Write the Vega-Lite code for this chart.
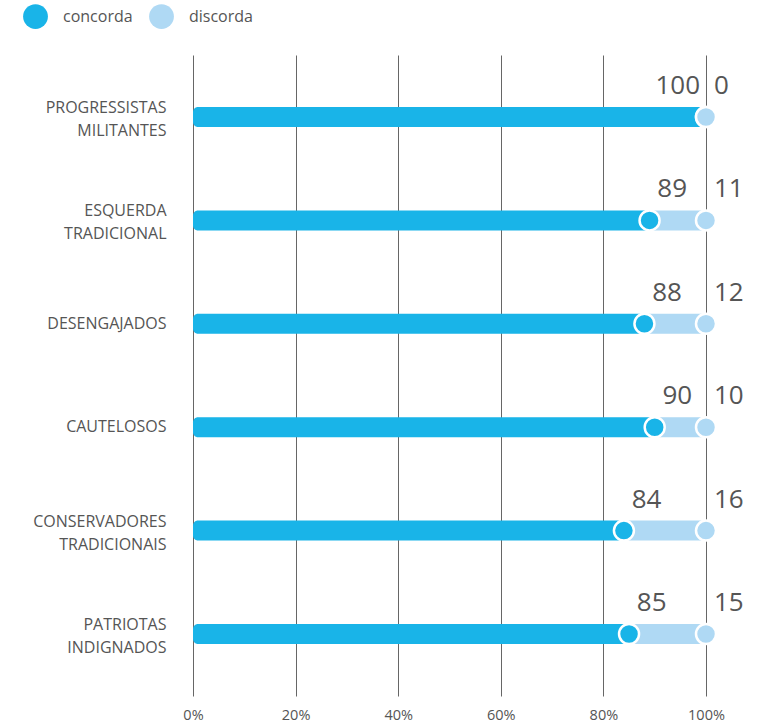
{
  "$schema": "https://vega.github.io/schema/vega-lite/v6.json",
  "width": 513,
  "height": 641,
  "autosize": "none",
  "padding": {"left": 193, "top": 55, "right": 57, "bottom": 31},
  "config": {
    "font": "Open Sans",
    "view": {"stroke": null},
    "axis": {"labelColor": "#555555", "labelFont": "Open Sans"},
    "legend": {"labelFont": "Open Sans"}
  },
  "data": {
    "values": [
      {"grupo": "PROGRESSISTAS|MILITANTES", "concorda": 100, "discorda": 0},
      {"grupo": "ESQUERDA|TRADICIONAL", "concorda": 89, "discorda": 11},
      {"grupo": "DESENGAJADOS", "concorda": 88, "discorda": 12},
      {"grupo": "CAUTELOSOS", "concorda": 90, "discorda": 10},
      {"grupo": "CONSERVADORES|TRADICIONAIS", "concorda": 84, "discorda": 16},
      {"grupo": "PATRIOTAS|INDIGNADOS", "concorda": 85, "discorda": 15}
    ]
  },
  "encoding": {
    "y": {
      "field": "grupo",
      "type": "nominal",
      "sort": null,
      "title": null,
      "scale": {"paddingInner": 0, "paddingOuter": 0.1},
      "axis": {
        "domain": false,
        "ticks": false,
        "labelPadding": 27,
        "labelFontSize": 16,
        "labelLineHeight": 23,
        "labelLimit": 200,
        "labelOffset": {"condition": {"test": "indexof(datum.value, '|') >= 0", "value": -9}, "value": 0},
        "labelExpr": "split(datum.value, '|')"
      }
    }
  },
  "layer": [
    {
      "transform": [
        {"fold": ["concorda", "discorda"], "as": ["resposta", "valor"]},
        {"stack": "valor", "groupby": ["grupo"], "sort": [{"field": "resposta", "order": "ascending"}], "as": ["v0", "v1"]}
      ],
      "mark": {"type": "bar", "size": 20, "cornerRadius": 5},
      "encoding": {
        "x": {
          "field": "v0",
          "type": "quantitative",
          "title": null,
          "scale": {"domain": [0, 100], "nice": false},
          "axis": {
            "values": [0, 20, 40, 60, 80, 100],
            "labelExpr": "datum.value + '%'",
            "labelFlush": false,
            "grid": true,
            "gridColor": "#666666",
            "gridWidth": 1,
            "domain": false,
            "ticks": false,
            "labelPadding": 12,
            "labelFontSize": 14.5
          }
        },
        "x2": {"field": "v1"},
        "color": {
          "field": "resposta",
          "type": "nominal",
          "scale": {"domain": ["concorda", "discorda"], "range": ["#19b4e8", "#afd9f4"]}
        }
      }
    },
    {
      "transform": [
        {"fold": ["concorda", "discorda"], "as": ["resposta", "valor"]},
        {"stack": "valor", "groupby": ["grupo"], "sort": [{"field": "resposta", "order": "ascending"}], "as": ["v0", "v1"]}
      ],
      "mark": {"type": "point", "filled": true, "shape": "circle", "size": 400, "stroke": "#ffffff", "strokeWidth": 2.5, "opacity": 1},
      "encoding": {
        "x": {"field": "v1", "type": "quantitative"},
        "color": {
          "field": "resposta",
          "type": "nominal",
          "legend": {
            "title": null,
            "orient": "none",
            "legendX": -170,
            "legendY": -51,
            "direction": "horizontal",
            "symbolType": "circle",
            "symbolSize": 615,
            "symbolStrokeWidth": 0,
            "symbolOpacity": 1,
            "labelFontSize": 16,
            "labelColor": "#555555",
            "labelOffset": 15,
            "columnPadding": 16,
            "padding": 0
          }
        }
      }
    },
    {
      "transform": [{"calculate": "min(datum.concorda + 4.4, 94.5)", "as": "lx"}],
      "mark": {"type": "text", "align": "center", "baseline": "alphabetic", "dy": -23, "fontSize": 26, "color": "#555555"},
      "encoding": {
        "x": {"field": "lx", "type": "quantitative"},
        "text": {"field": "concorda", "type": "quantitative"}
      }
    },
    {
      "mark": {"type": "text", "align": "left", "baseline": "alphabetic", "dy": -23, "dx": 8, "fontSize": 26, "color": "#555555"},
      "encoding": {
        "x": {"datum": 100, "type": "quantitative"},
        "text": {"field": "discorda", "type": "quantitative"}
      }
    }
  ]
}
